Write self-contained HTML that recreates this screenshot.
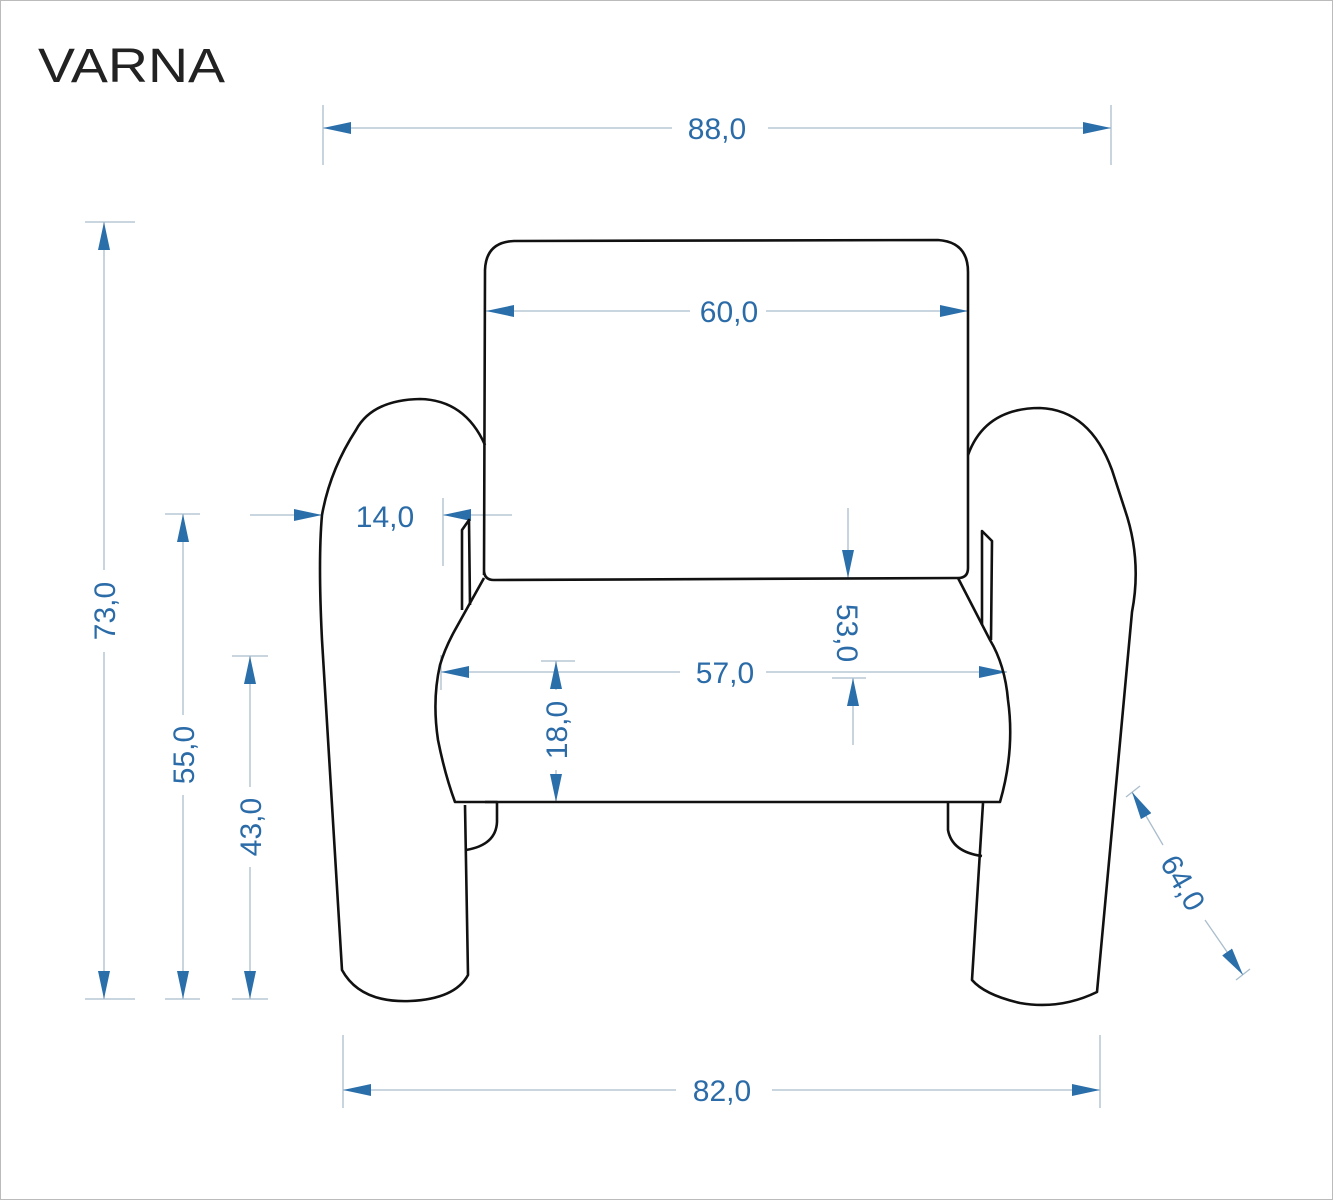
<!DOCTYPE html>
<html><head><meta charset="utf-8"><style>
html,body{margin:0;padding:0;background:#fff}
svg{display:block}
text{font-family:"Liberation Sans",sans-serif;fill:#2b6ca8;font-size:30px}
</style></head><body>
<svg width="1333" height="1200" viewBox="0 0 1333 1200" xmlns="http://www.w3.org/2000/svg">
<defs>
<marker id="a" viewBox="0 0 28 12" refX="28" refY="6" markerWidth="28" markerHeight="12" markerUnits="userSpaceOnUse" orient="auto-start-reverse"><path d="M0,0 L28,6 L0,12 Z" fill="#2b6faa"/></marker>
</defs>
<rect x="0.5" y="0.5" width="1332" height="1199" fill="#fff" stroke="#bbb"/>
<text x="38" y="82" textLength="187" lengthAdjust="spacingAndGlyphs" style="font-size:48px;fill:#222">VARNA</text>

<g stroke="#aabdcc" stroke-width="1.3" fill="none">
<line x1="323" y1="105" x2="323" y2="165"/><line x1="1111" y1="105" x2="1111" y2="165"/>
<line x1="323" y1="128" x2="672" y2="128" marker-start="url(#a)"/>
<line x1="768" y1="128" x2="1111" y2="128" marker-end="url(#a)"/>
<line x1="486" y1="311" x2="690" y2="311" marker-start="url(#a)"/>
<line x1="766" y1="311" x2="968" y2="311" marker-end="url(#a)"/>
<line x1="85" y1="222" x2="135" y2="222"/><line x1="85" y1="999" x2="135" y2="999"/>
<line x1="104" y1="222" x2="104" y2="570" marker-start="url(#a)"/>
<line x1="104" y1="652" x2="104" y2="999" marker-end="url(#a)"/>
<line x1="165" y1="514" x2="200" y2="514"/><line x1="165" y1="999" x2="200" y2="999"/>
<line x1="183" y1="514" x2="183" y2="715" marker-start="url(#a)"/>
<line x1="183" y1="795" x2="183" y2="999" marker-end="url(#a)"/>
<line x1="232" y1="656" x2="268" y2="656"/><line x1="232" y1="999" x2="268" y2="999"/>
<line x1="250" y1="656" x2="250" y2="787" marker-start="url(#a)"/>
<line x1="250" y1="867" x2="250" y2="999" marker-end="url(#a)"/>
<line x1="343" y1="1035" x2="343" y2="1108"/><line x1="1100" y1="1035" x2="1100" y2="1108"/>
<line x1="343" y1="1090" x2="676" y2="1090" marker-start="url(#a)"/>
<line x1="772" y1="1090" x2="1100" y2="1090" marker-end="url(#a)"/>
<line x1="250" y1="515" x2="322" y2="515" marker-end="url(#a)"/>
<line x1="512" y1="515" x2="443" y2="515" marker-end="url(#a)"/>
<line x1="443" y1="498" x2="443" y2="566"/>
<line x1="441" y1="655" x2="441" y2="690"/>
<line x1="441" y1="672" x2="680" y2="672" marker-start="url(#a)"/>
<line x1="766" y1="672" x2="1007" y2="672" marker-end="url(#a)"/>
<line x1="541" y1="661" x2="575" y2="661"/>
<line x1="556" y1="661" x2="556" y2="690" marker-start="url(#a)"/>
<line x1="556" y1="770" x2="556" y2="802" marker-end="url(#a)"/>
<line x1="848" y1="508" x2="848" y2="578" marker-end="url(#a)"/>
<line x1="853" y1="745" x2="853" y2="678" marker-end="url(#a)"/>
<line x1="832" y1="678" x2="866" y2="678"/>
<line x1="1126" y1="797" x2="1140" y2="786"/><line x1="1236" y1="980" x2="1250" y2="969"/>
<line x1="1132" y1="792" x2="1163" y2="845" marker-start="url(#a)"/>
<line x1="1205" y1="920" x2="1243" y2="975" marker-end="url(#a)"/>
</g>

<text x="717" y="139" text-anchor="middle">88,0</text>
<text x="729" y="322" text-anchor="middle">60,0</text>
<text x="725" y="683" text-anchor="middle">57,0</text>
<text x="722" y="1101" text-anchor="middle">82,0</text>
<text x="385" y="527" text-anchor="middle">14,0</text>
<text transform="translate(115,611) rotate(-90)" text-anchor="middle">73,0</text>
<text transform="translate(194,755) rotate(-90)" text-anchor="middle">55,0</text>
<text transform="translate(261,827) rotate(-90)" text-anchor="middle">43,0</text>
<text transform="translate(567,730) rotate(-90)" text-anchor="middle">18,0</text>
<text transform="translate(837,633) rotate(90)" text-anchor="middle">53,0</text>
<text transform="translate(1174,888) rotate(60)" text-anchor="middle">64,0</text>

<g stroke="#111" stroke-width="2.6" fill="none" stroke-linejoin="round">
<path d="M322,515 Q330,470 356,430 Q372,400 420,399 Q465,400 485,445 M322,515 Q318,560 322,640 L342,970 Q360,1003 410,1001 Q455,999 468,975 L465,805"/>
<path d="M968,455 Q985,408 1040,408 Q1090,410 1112,470 L1125,510 Q1142,560 1132,612 L1097,992 Q1060,1010 1020,1003 Q985,995 972,980 L983,803"/>
<path d="M462,610 L462,530 L469,520 L470,605"/>
<path d="M982,625 L982,531 L992,541 L991,640"/>
<path d="M485,802 L497,802 L497,822 Q496,845 466,850"/>
<path d="M948,802 L948,830 Q952,852 982,856"/>
<path d="M484,575 L485,270 Q486,242 514,241 L938,240 Q968,242 968,272 L968,568 Q968,578 958,578 L494,580 Q484,580 484,570"/>
<path d="M484,578 L455,630 Q445,648 440,665 Q432,700 438,740 Q445,775 455,802 L1000,802 Q1015,750 1008,700 Q1005,665 990,640 L958,578"/>
</g>
</svg>
</body></html>
